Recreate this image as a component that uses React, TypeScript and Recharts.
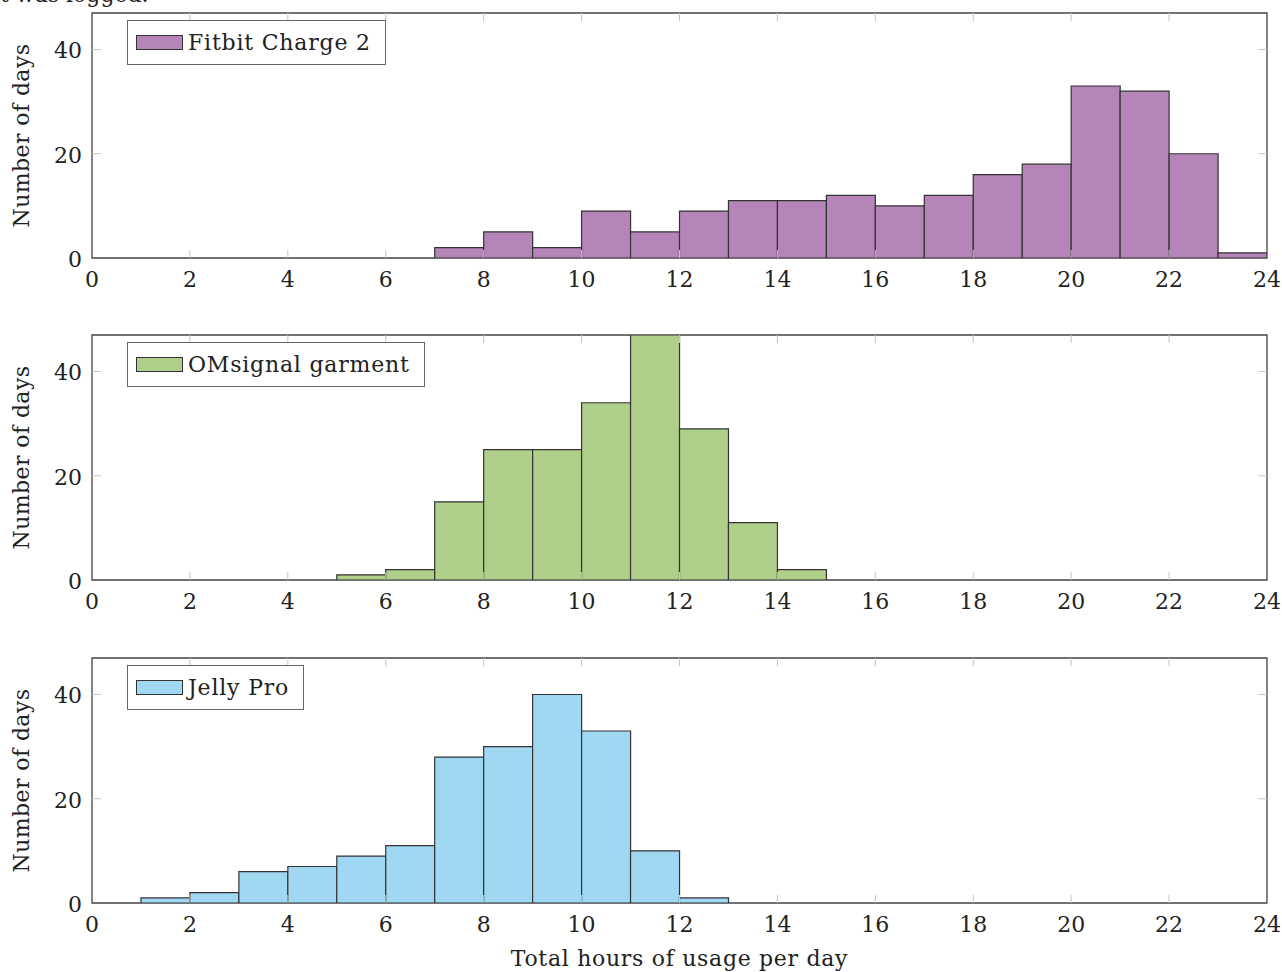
import React from "react";
import { ComposedChart, Bar, XAxis, YAxis, ReferenceArea, Legend } from "recharts";

// histogram bins: hour of day the bin starts at
const BIN_START = [0, 1, 2, 3, 4, 5, 6, 7, 8, 9, 10, 11, 12, 13, 14, 15, 16, 17, 18, 19, 20, 21, 22, 23];
const FITBIT = [0, 0, 0, 0, 0, 0, 0, 2, 5, 2, 9, 5, 9, 11, 11, 12, 10, 12, 16, 18, 33, 32, 20, 1];
const OMSIGNAL = [0, 0, 0, 0, 0, 1, 2, 15, 25, 25, 34, 47, 29, 11, 2, 0, 0, 0, 0, 0, 0, 0, 0, 0];
const JELLY = [0, 1, 2, 6, 7, 9, 11, 28, 30, 40, 33, 10, 1, 0, 0, 0, 0, 0, 0, 0, 0, 0, 0, 0];

const X_TICKS = [0, 2, 4, 6, 8, 10, 12, 14, 16, 18, 20, 22, 24];
const Y_TICKS = [0, 20, 40];
const Y_MAX = 47;

const FONT = "DejaVu Serif";
const FS = 22;
const W = 1282;
const PLOT_LEFT = 92;
const PLOT_RIGHT = 1267;
const PLOT_TOP = 13;
const PLOT_H = 245;
const Y_AXIS_W = 60;
const X_AXIS_H = 50;
const TICK_COLOR = "#c4c4c4";

const XTick = (props: any) => {
  const { x, y, payload } = props;
  const edge = payload.value === 0 || payload.value === 24;
  return (
    <g>
      {!edge && <line x1={x} x2={x} y1={y} y2={y - 8} stroke={TICK_COLOR} />}
      {!edge && <line x1={x} x2={x} y1={PLOT_TOP} y2={PLOT_TOP + 8} stroke={TICK_COLOR} />}
      <text x={x} y={y + 29} textAnchor="middle" fontFamily={FONT} fontSize={FS} fill="#222">
        {payload.value}
      </text>
    </g>
  );
};

const YTick = (props: any) => {
  const { x, y, payload } = props;
  const edge = payload.value === 0;
  return (
    <g>
      {!edge && <line x1={x} x2={x + 9} y1={y} y2={y} stroke={TICK_COLOR} />}
      {!edge && <line x1={PLOT_RIGHT} x2={PLOT_RIGHT - 9} y1={y} y2={y} stroke={TICK_COLOR} />}
      <text x={x - 10} y={y + 9} textAnchor="end" fontFamily={FONT} fontSize={FS} fill="#222">
        {payload.value}
      </text>
    </g>
  );
};

function Panel({ values, name, color, height, xLabel }: any) {
  const data = BIN_START.map((b, i) => ({ mid: b + 0.5, count: values[i] }));
  const bottom = height - PLOT_TOP - PLOT_H - X_AXIS_H;
  return (
    <ComposedChart
      width={W}
      height={height}
      data={data}
      barCategoryGap={0}
      barGap={0}
      margin={{ top: PLOT_TOP, right: W - PLOT_RIGHT, bottom, left: PLOT_LEFT - Y_AXIS_W }}
    >
      <XAxis
        dataKey="mid"
        type="number"
        domain={[0, 24]}
        ticks={X_TICKS}
        allowDataOverflow
        height={X_AXIS_H}
        axisLine={false}
        tickLine={false}
        tickSize={0}
        tickMargin={0}
        interval={0}
        tick={<XTick />}
        label={
          xLabel
            ? (p: any) => {
                const vb = p.viewBox;
                return (
                  <text
                    x={vb.x + vb.width / 2}
                    y={vb.y + 63}
                    textAnchor="middle"
                    fontFamily={FONT}
                    fontSize={FS}
                    letterSpacing={0.7}
                    fill="#222"
                  >
                    {xLabel}
                  </text>
                );
              }
            : undefined
        }
      />
      <YAxis
        type="number"
        domain={[0, Y_MAX]}
        ticks={Y_TICKS}
        allowDataOverflow
        width={Y_AXIS_W}
        axisLine={false}
        tickLine={false}
        tickSize={0}
        tickMargin={0}
        interval={0}
        tick={<YTick />}
        label={(p: any) => {
          const vb = p.viewBox;
          const cy = vb.y + vb.height / 2;
          return (
            <text
              x={29}
              y={cy}
              transform={`rotate(-90 29 ${cy})`}
              textAnchor="middle"
              fontFamily={FONT}
              fontSize={FS}
              letterSpacing={0.4}
              fill="#222"
            >
              Number of days
            </text>
          );
        }}
      />
      <Legend
        layout="horizontal"
        verticalAlign="middle"
        align="center"
        wrapperStyle={{ top: PLOT_TOP + 7, left: 127, width: "auto", height: "auto" }}
        content={() => (
          <div
            style={{
              display: "flex",
              alignItems: "center",
              height: 43,
              border: "1px solid #666",
              background: "#fff",
              padding: "0 14px 0 8px",
              fontFamily: FONT,
              fontSize: FS,
              letterSpacing: 0.8,
              color: "#222",
              whiteSpace: "nowrap",
            }}
          >
            <span
              style={{
                display: "inline-block",
                width: 45,
                height: 13,
                background: color,
                border: "1.5px solid #333",
                marginRight: 5,
              }}
            />
            {name}
          </div>
        )}
      />
      <Bar dataKey="count" name={name} fill={color} stroke="#333" strokeWidth={1.2} isAnimationActive={false} />
      <ReferenceArea x1={0} x2={24} y1={0} y2={Y_MAX} fill="none" stroke="#444" strokeWidth={1.3} />
    </ComposedChart>
  );
}

export default function App() {
  return (
    <div style={{ position: "absolute", top: 0, left: 0, width: W, height: 972, overflow: "hidden", background: "#fff" }}>
      <div
        style={{
          position: "absolute",
          top: -16,
          left: 0,
          fontFamily: FONT,
          fontSize: FS,
          lineHeight: "22px",
          color: "#222",
        }}
      >
        t was logged.
      </div>
      <div style={{ position: "absolute", top: 0, left: 0 }}>
        <Panel values={FITBIT} name="Fitbit Charge 2" color="#b585ba" height={322} />
      </div>
      <div style={{ position: "absolute", top: 322, left: 0 }}>
        <Panel values={OMSIGNAL} name="OMsignal garment" color="#b0cf8a" height={322} />
      </div>
      <div style={{ position: "absolute", top: 645, left: 0 }}>
        <Panel values={JELLY} name="Jelly Pro" color="#a0d7f2" height={327} xLabel="Total hours of usage per day" />
      </div>
    </div>
  );
}
